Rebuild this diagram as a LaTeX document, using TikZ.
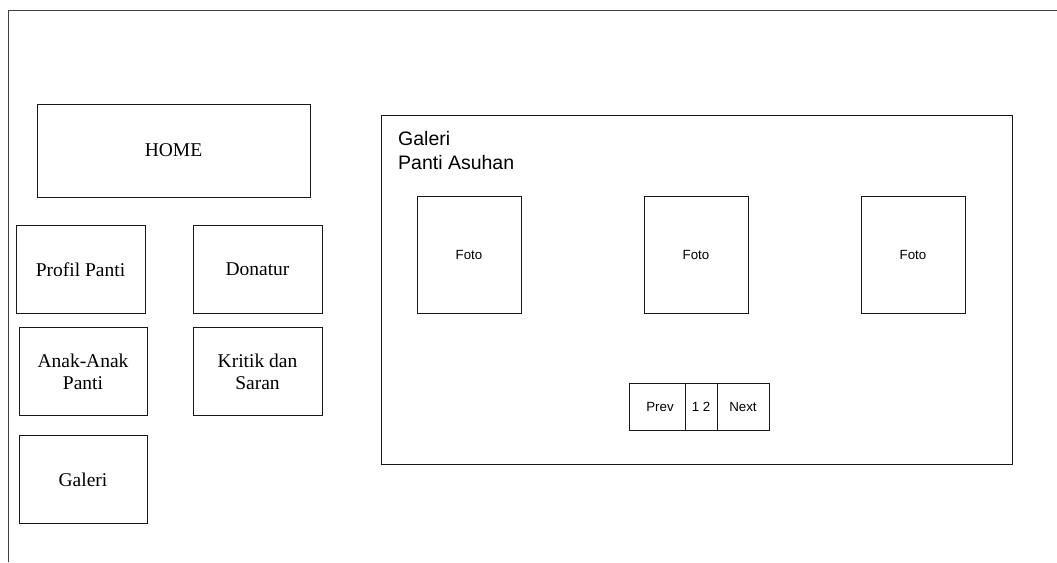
\documentclass[tikz,border=0pt]{standalone}
\usepackage{fontspec}
\setmainfont{Liberation Serif}
\setsansfont{Liberation Sans}
\usetikzlibrary{positioning}

\tikzset{
  menubox/.style={draw=black!90, line width=1pt, inner sep=0pt, outer sep=0pt,
                  align=center, font=\fontsize{19.5}{22}\selectfont},
  fotobox/.style={draw=black!90, line width=1pt, inner sep=0pt, outer sep=0pt,
                  minimum width=104, minimum height=117,
                  font=\sffamily\fontsize{13.3}{16}\selectfont},
  pagebox/.style={draw=black!90, line width=1pt, inner sep=0pt, outer sep=0pt,
                  minimum height=47, font=\sffamily\fontsize{13.3}{16}\selectfont}
}

\begin{document}
\begin{tikzpicture}[x=1pt, y=-1pt, node distance=0pt]
    \useasboundingbox (0,0) rectangle (1057,562);
    %\draw[help lines] (0,0) grid (1057,562);

    % frame
    \draw[black!75, line width=1pt] (1057,10) -- (8,10) -- (8,562);

    % menu
    \node[menubox, minimum width=273, minimum height=93] (home)    at (173.5,150.5) {HOME};
    \node[menubox, minimum width=129, minimum height=88] (profil)  at (80.5,269.5)  {Profil Panti};
    \node[menubox, minimum width=129, minimum height=88] (donatur) at (257.5,269.5) {Donatur};
    \node[menubox, minimum width=128, minimum height=88] (anak)    at (83,371.5)    {Anak-Anak\\Panti};
    \node[menubox, minimum width=129, minimum height=88] (kritik)  at (257.5,371.5) {Kritik dan\\Saran};
    \node[menubox, minimum width=128, minimum height=88] (galeri)  at (83,479.5)    {Galeri};

    % content
    \node[draw=black!90, line width=1pt, minimum width=631, minimum height=349,
          inner sep=0pt, outer sep=0pt] (panel) at (696.5,289.5) {};
    \node[anchor=north west, inner sep=0pt, align=left,
          font=\sffamily\fontsize{19.5}{24}\selectfont] (judul) at (398,131) {Galeri\\Panti Asuhan};

    \node[fotobox] (foto1) at (469,254.5) {Foto};
    \node[fotobox] (foto2) at (696,254.5) {Foto};
    \node[fotobox] (foto3) at (913,254.5) {Foto};

    % paging
    \node[pagebox, minimum width=56] (prev) at (657,406.5) {\hspace{6pt}Prev};
    \node[pagebox, minimum width=32] (nomor) [right=of prev] {1 2};
    \node[pagebox, minimum width=52] (next)  [right=of nomor] {Next};

\end{tikzpicture}
\end{document}
